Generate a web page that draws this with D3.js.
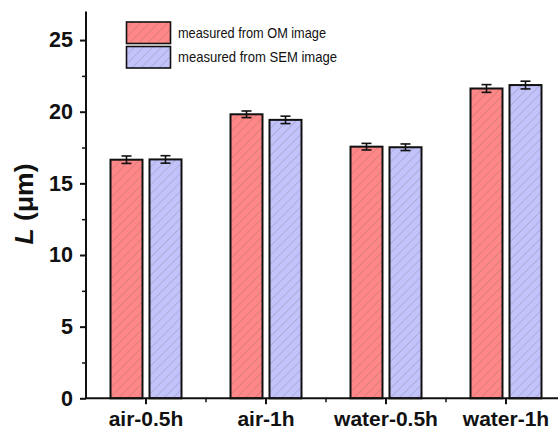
<!DOCTYPE html>
<html>
<head>
<meta charset="utf-8">
<script src="https://cdn.jsdelivr.net/npm/d3@7"></script>
<style>
  html, body { margin: 0; padding: 0; background: #fff; }
  svg { display: block; }
</style>
</head>
<body>
<script>
// Sample conditions and measured lengths L (µm)
const categories = ["air-0.5h", "air-1h", "water-0.5h", "water-1h"];
const seriesNames = ["measured from OM image", "measured from SEM image"];
const omValues  = [16.65, 19.82, 17.56, 21.62];
const semValues = [16.67, 19.43, 17.52, 21.86];
const omErrors  = [0.26, 0.23, 0.23, 0.27];
const semErrors = [0.26, 0.26, 0.23, 0.27];
const yTicks = [0, 5, 10, 15, 20, 25];

const W = 558, H = 432;
const fills = ["#ff8787", "#c3c3fb"];
const FONT = "Liberation Sans, Arial, sans-serif";

const svg = d3.select("body").append("svg")
  .attr("width", W).attr("height", H);

// Diagonal hatch patterns over the bar fills
const defs = svg.append("defs");
const hs = 6.4;
fills.forEach((c, i) => {
  const p = defs.append("pattern")
    .attr("id", "hatch" + i)
    .attr("patternUnits", "userSpaceOnUse")
    .attr("width", hs).attr("height", hs)
    .attr("patternTransform", "rotate(45)");
  p.append("rect").attr("width", hs).attr("height", hs).attr("fill", c);
  p.append("line").attr("x1", 0).attr("y1", 0).attr("x2", 0).attr("y2", hs)
    .attr("stroke", "rgba(90,90,90,0.4)").attr("stroke-width", 1);
});

const x = d3.scaleBand().domain(categories).range([86, 566]).padding(0);
const inner = d3.scaleBand().domain([0, 1]).range([-35.5, 35.5]).paddingInner(0.18);
const y = d3.scaleLinear().domain([0, 27]).range([398.3, 11.4]);

const rows = categories.flatMap((c, i) => [
  { cat: c, s: 0, v: omValues[i], e: omErrors[i] },
  { cat: c, s: 1, v: semValues[i], e: semErrors[i] }
]);
const cx = d => x(d.cat) + x.bandwidth() / 2;

// Bars
svg.append("g").selectAll("rect").data(rows).join("rect")
  .attr("x", d => cx(d) + inner(d.s))
  .attr("width", inner.bandwidth())
  .attr("y", d => y(d.v))
  .attr("height", d => y(0) - y(d.v))
  .attr("fill", d => `url(#hatch${d.s})`)
  .attr("stroke", "#111").attr("stroke-width", 2);

// Error bars
const eg = svg.append("g").attr("stroke", "#111").attr("stroke-width", 1.6);
rows.forEach(d => {
  const mx = cx(d) + inner(d.s) + inner.bandwidth() / 2;
  eg.append("line").attr("x1", mx).attr("x2", mx)
    .attr("y1", y(d.v + d.e)).attr("y2", y(d.v - d.e));
  [d.v + d.e, d.v - d.e].forEach(t => {
    eg.append("line").attr("x1", mx - 5).attr("x2", mx + 5)
      .attr("y1", y(t)).attr("y2", y(t));
  });
});

// Y axis
const yAxis = svg.append("g").attr("transform", "translate(86,0)")
  .call(d3.axisLeft(y).tickValues(yTicks).tickSize(6).tickPadding(7).tickFormat(d3.format("d")));
yAxis.select(".domain").attr("stroke", "#111").attr("stroke-width", 2).attr("d", `M0,${y(0)}V${y(27)}`);
yAxis.selectAll(".tick line").attr("stroke", "#111").attr("stroke-width", 2);
yAxis.selectAll("text").attr("font-family", FONT)
  .attr("font-weight", "bold").attr("font-size", 21.5).attr("fill", "#111");
svg.append("g").attr("transform", "translate(86,0)")
  .call(d3.axisLeft(y).tickValues(d3.range(2.5, 27, 5)).tickSize(4).tickFormat(""))
  .call(g => g.select(".domain").remove())
  .selectAll("line").attr("stroke", "#111").attr("stroke-width", 1.5);

// X axis
const xAxis = svg.append("g").attr("transform", `translate(0,${y(0)})`)
  .call(d3.axisBottom(x).tickSize(6).tickPadding(7));
xAxis.select(".domain").attr("stroke", "#111").attr("stroke-width", 2).attr("d", "M86,0H566");
xAxis.selectAll(".tick line").attr("stroke", "#111").attr("stroke-width", 2);
xAxis.selectAll("text").attr("font-family", FONT)
  .attr("font-weight", "bold").attr("font-size", 21).attr("fill", "#111");
svg.append("g").attr("transform", `translate(0,${y(0)})`)
  .selectAll("line").data(categories.slice(1)).join("line")
  .attr("x1", d => x(d)).attr("x2", d => x(d))
  .attr("y1", 0).attr("y2", 4)
  .attr("stroke", "#111").attr("stroke-width", 1.5);

// Y axis title
const yt = svg.append("text")
  .attr("transform", "translate(33,204) rotate(-90)")
  .attr("text-anchor", "middle")
  .attr("font-family", FONT)
  .attr("font-weight", "bold").attr("font-size", 26.5).attr("fill", "#111");
yt.append("tspan").attr("font-style", "italic").text("L");
yt.append("tspan").text(" (μm)");

// Legend
const lg = svg.append("g");
const legendWidths = [148, 159];
seriesNames.forEach((name, i) => {
  const ly = 22 + i * 24.5;
  lg.append("rect").attr("x", 126.5).attr("y", ly).attr("width", 44).attr("height", 21.5)
    .attr("fill", `url(#hatch${i})`).attr("stroke", "#111").attr("stroke-width", 1.6);
  lg.append("text").attr("x", 178).attr("y", ly + 15.5)
    .attr("font-family", FONT)
    .attr("font-size", 14.5)
    .attr("textLength", legendWidths[i]).attr("lengthAdjust", "spacingAndGlyphs")
    .attr("fill", "#111").text(name);
});
</script>
</body>
</html>
